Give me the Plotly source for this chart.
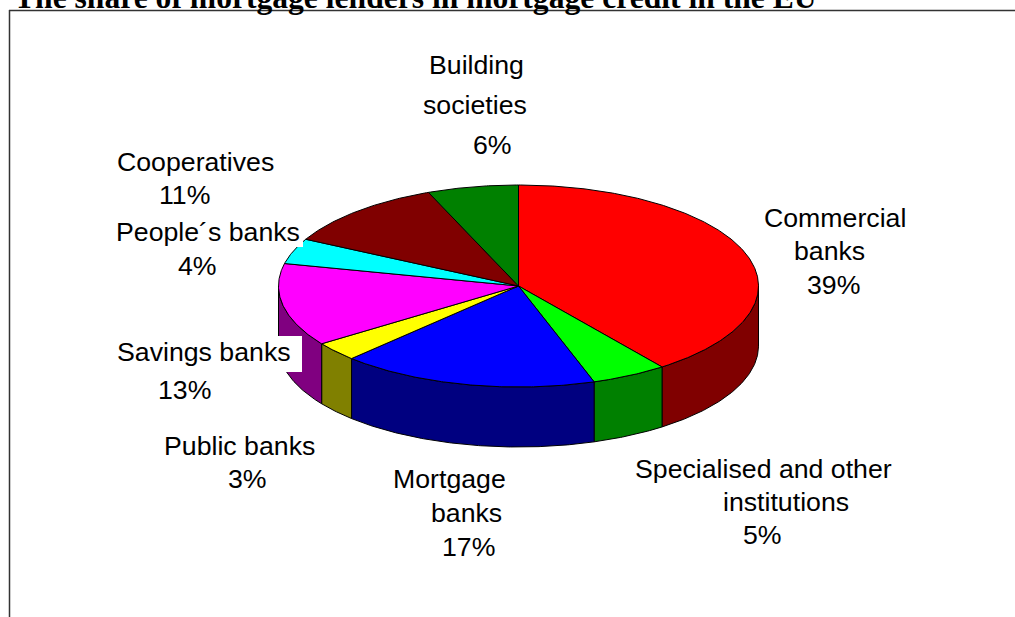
import numpy as np
import plotly.graph_objects as go

# Lender groups and their share of mortgage credit, clockwise from 12 o'clock
categories = ["Commercial banks", "Specialised and other institutions", "Mortgage banks",
              "Public banks", "Savings banks", "People´s banks", "Cooperatives", "Building societies"]
shares = [39, 5, 17, 3, 13, 4, 11, 6]
top_colors = ["#ff0000", "#00ff00", "#0000ff", "#ffff00", "#ff00ff", "#00ffff", "#800000", "#008000"]
wall_colors = ["#800000", "#008000", "#000080", "#808000", "#800080", "#008080", "#400000", "#004000"]

# Label text, one entry per line, followed by the line's centre on the page
label_lines = [
    ("Building", 476, 65), ("societies", 475, 105), ("6%", 492, 145),
    ("Commercial", 835, 218), ("banks", 829.5, 251), ("39%", 833.5, 285),
    ("Specialised and other", 763, 469), ("institutions", 786, 502), ("5%", 762, 535),
    ("Mortgage", 449, 479), ("banks", 466, 513), ("17%", 468, 547),
    ("Public banks", 239, 446), ("3%", 247, 479),
    ("Savings banks", 203.5, 352), ("13%", 184.5, 390),
    ("People´s banks", 208, 232), ("4%", 197, 266),
    ("Cooperatives", 195.5, 162), ("11%", 184.5, 195),
]

# Pie geometry in page pixels
CX, CY, RX, RY, DEPTH = 518.5, 286, 240, 101, 60


def rim(a0, a1, drop=0.0):
    """Points along the ellipse between two clockwise angles measured from 12 o'clock."""
    t = np.radians(np.linspace(a0, a1, max(int(abs(a1 - a0) * 2), 2)))
    return CX + RX * np.sin(t), CY - RY * np.cos(t) + drop


fig = go.Figure()
edges = np.concatenate([[0], np.cumsum(shares)]) / sum(shares) * 360


def polygon(xs, ys, color, name):
    fig.add_trace(go.Scatter(x=xs, y=ys, mode="lines", fill="toself", fillcolor=color,
                             line=dict(color="black", width=1), name=name, hoverinfo="name"))


# Side walls: only the front half of the rim (90 to 270 degrees) is visible
for name, a0, a1, color in zip(categories, edges[:-1], edges[1:], wall_colors):
    lo, hi = max(a0, 90), min(a1, 270)
    if lo < hi:
        tx, ty = rim(lo, hi)
        bx, by = rim(hi, lo, DEPTH)
        polygon(np.r_[tx, bx, tx[0]], np.r_[ty, by, ty[0]], color, name)

# Top surface wedges
for name, a0, a1, color in zip(categories, edges[:-1], edges[1:], top_colors):
    tx, ty = rim(a0, a1)
    polygon(np.r_[CX, tx, CX], np.r_[CY, ty, CY], color, name)

shapes = [
    # Chart frame: top and left rules run off the page
    dict(type="line", x0=9, x1=1015, y0=10.5, y1=10.5, line=dict(color="#333333", width=1.5)),
    dict(type="line", x0=9.5, x1=9.5, y0=10, y1=617, line=dict(color="#333333", width=1.5)),
    # Opaque label backgrounds that sit over the pie
    dict(type="rect", x0=115, x1=303, y0=215, y1=247, fillcolor="white", line_width=0, layer="above"),
    dict(type="rect", x0=115, x1=302, y0=336, y1=372, fillcolor="white", line_width=0, layer="above"),
]

annotations = [
    dict(x=x, y=y, text=text, showarrow=False, xanchor="center", yanchor="middle",
         font=dict(family="Liberation Sans", size=26.7, color="black"))
    for text, x, y in label_lines
]
# The title sits against the top of the page and runs past its edge
annotations.append(dict(
    xref="paper", yref="paper", x=12 / 1015, y=1, yshift=3,
    text="<b>The share of mortgage lenders in mortgage credit in the EU</b>",
    showarrow=False, xanchor="left", yanchor="middle",
    font=dict(family="Liberation Serif", size=31.6, color="black"),
))

fig.update_layout(
    width=1015, height=617, autosize=False, margin=dict(l=0, r=0, t=0, b=0),
    paper_bgcolor="white", plot_bgcolor="white", showlegend=False,
    xaxis=dict(range=[0, 1015], visible=False, fixedrange=True),
    yaxis=dict(range=[617, 0], visible=False, fixedrange=True),
    shapes=shapes, annotations=annotations,
)
fig.write_html("out.html", config=dict(displayModeBar=False))
